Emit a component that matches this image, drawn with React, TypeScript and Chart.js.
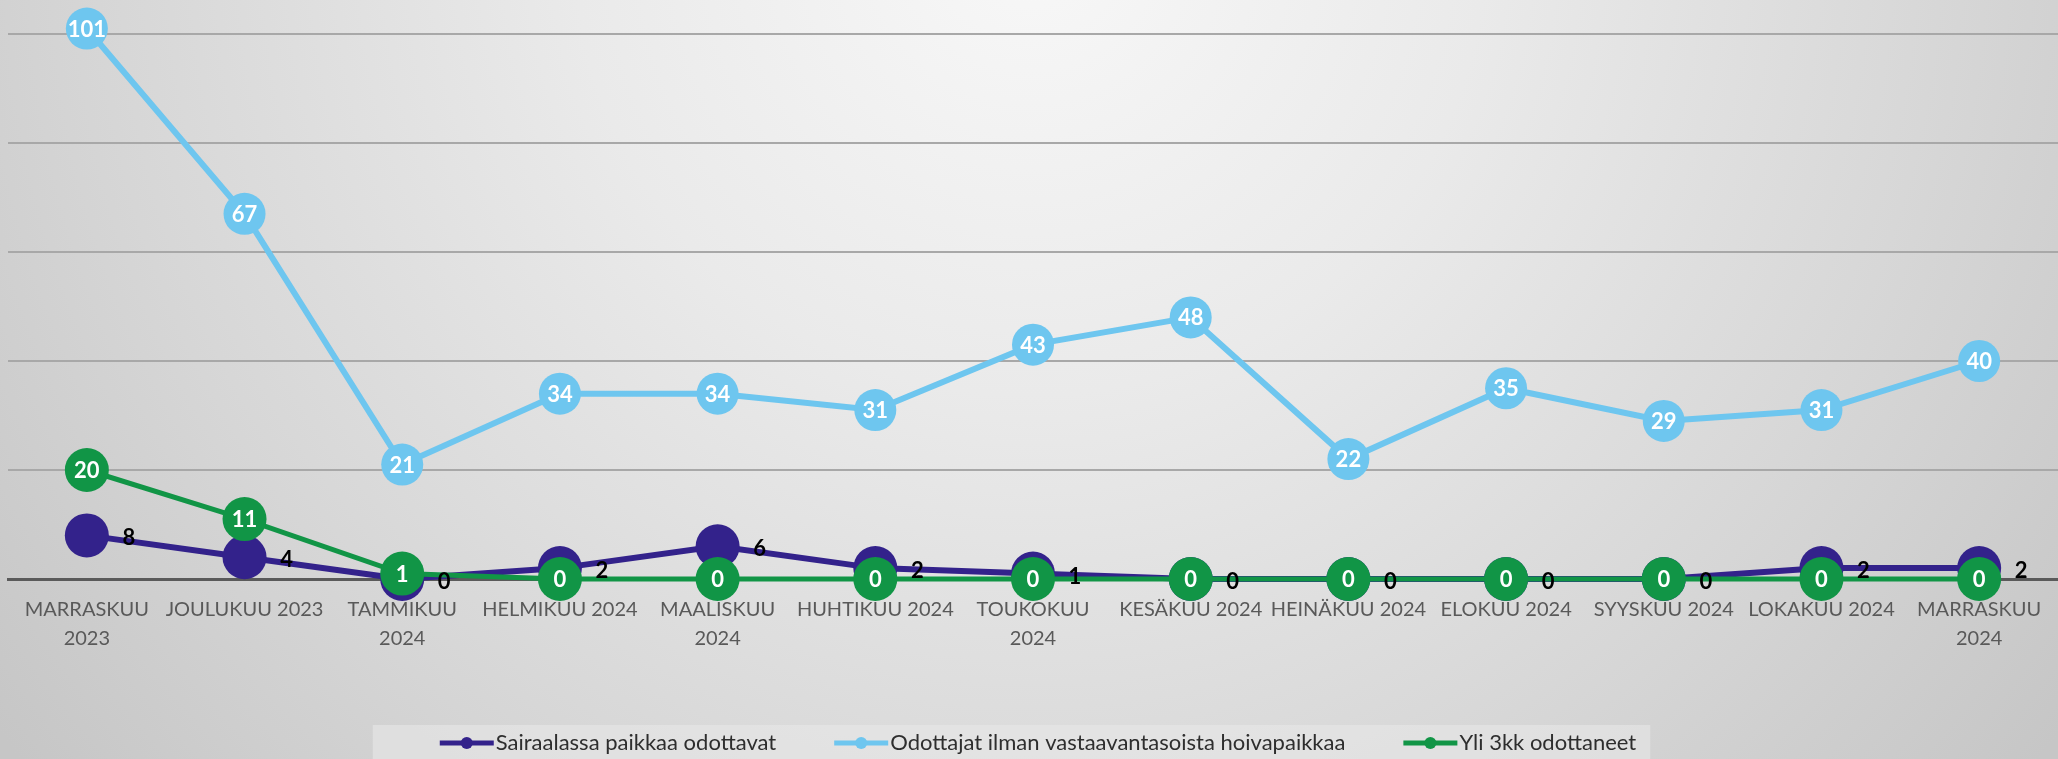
import React, { useEffect, useRef } from 'react';
import { Chart, registerables } from 'chart.js';

Chart.register(...registerables);

const categories: (string | string[])[] = [
  ['MARRASKUU', '2023'],
  'JOULUKUU 2023',
  ['TAMMIKUU', '2024'],
  'HELMIKUU 2024',
  ['MAALISKUU', '2024'],
  'HUHTIKUU 2024',
  ['TOUKOKUU', '2024'],
  'KESÄKUU 2024',
  'HEINÄKUU 2024',
  'ELOKUU 2024',
  'SYYSKUU 2024',
  'LOKAKUU 2024',
  ['MARRASKUU', '2024'],
];
const sairaalassa = [8, 4, 0, 2, 6, 2, 1, 0, 0, 0, 0, 2, 2];
const odottajat = [101, 67, 21, 34, 34, 31, 43, 48, 22, 35, 29, 31, 40];
const yli3kk = [20, 11, 1, 0, 0, 0, 0, 0, 0, 0, 0, 0, 0];
const seriesNames = [
  'Sairaalassa paikkaa odottavat',
  'Odottajat ilman vastaavantasoista hoivapaikkaa',
  'Yli 3kk odottaneet',
];
const yTicks = [0, 20, 40, 60, 80, 100];

const FONT = 'Lato, "Liberation Sans", sans-serif';
const PURPLE = '#33228b';
const BLUE = '#6ec6ef';
const GREEN = '#119546';

const backgroundPlugin = {
  id: 'bg',
  beforeDraw(chart: any) {
    const { ctx, width, height } = chart;
    ctx.save();
    const g = ctx.createRadialGradient(1030, -60, 0, 1030, -60, 1300);
    g.addColorStop(0, '#f8f8f8');
    g.addColorStop(0.35, '#eaeaea');
    g.addColorStop(0.7, '#d7d7d7');
    g.addColorStop(1, '#c6c6c6');
    ctx.fillStyle = g;
    ctx.fillRect(0, 0, width, height);
    ctx.restore();
  },
};

const dataLabelPlugin = {
  id: 'dataLabels',
  afterDatasetsDraw(chart: any) {
    const ctx = chart.ctx;
    ctx.save();
    chart.data.datasets.forEach((ds: any, i: number) => {
      const meta = chart.getDatasetMeta(i);
      meta.data.forEach((pt: any, j: number) => {
        const v = ds.data[j];
        ctx.textAlign = 'center';
        ctx.textBaseline = 'middle';
        if (i === 0) {
          ctx.font = `bold 22px ${FONT}`;
          ctx.fillStyle = '#000000';
          ctx.fillText(String(v), pt.x + 42, pt.y + 3);
        } else {
          ctx.font = `bold 22px ${FONT}`;
          ctx.fillStyle = '#ffffff';
          ctx.fillText(String(v), pt.x, pt.y + 1);
        }
      });
    });
    ctx.restore();
  },
};

const legendPlugin = {
  id: 'customLegend',
  afterDraw(chart: any) {
    const ctx = chart.ctx;
    ctx.save();
    ctx.font = `22px ${FONT}`;
    const items = chart.data.datasets.map((ds: any) => ({
      label: ds.label,
      color: ds.borderColor,
      w: ctx.measureText(ds.label).width,
    }));
    const markerW = 54;
    const gap = 58;
    const total = items.reduce((s: number, it: any) => s + markerW + 2 + it.w, 0) + gap * (items.length - 1);
    let x = 1038 - total / 2;
    const cy = 743;
    ctx.fillStyle = 'rgba(232,232,232,0.6)';
    ctx.fillRect(x - 67, 725, total + 81, 40);
    items.forEach((it: any) => {
      ctx.strokeStyle = it.color;
      ctx.lineWidth = 5;
      ctx.beginPath();
      ctx.moveTo(x, cy);
      ctx.lineTo(x + markerW, cy);
      ctx.stroke();
      ctx.fillStyle = it.color;
      ctx.beginPath();
      ctx.arc(x + markerW / 2, cy, 6, 0, Math.PI * 2);
      ctx.fill();
      ctx.fillStyle = '#2e2e2e';
      ctx.textAlign = 'left';
      ctx.textBaseline = 'middle';
      ctx.fillText(it.label, x + markerW + 2, cy);
      x += markerW + 2 + it.w + gap;
    });
    ctx.restore();
  },
};

export default function App() {
  const ref = useRef<HTMLCanvasElement | null>(null);
  useEffect(() => {
    if (!ref.current) return;
    const mk = (label: string, data: number[], color: string, order: number, width: number, radius: number) => ({
      label,
      data,
      borderColor: color,
      backgroundColor: color,
      pointBackgroundColor: color,
      pointBorderColor: color,
      pointBorderWidth: 0,
      pointRadius: radius,
      pointHoverRadius: radius,
      borderWidth: width,
      tension: 0,
      order,
      clip: false as any,
    });
    const chart = new Chart(ref.current, {
      type: 'line',
      data: {
        labels: categories as any,
        datasets: [
          mk(seriesNames[0], sairaalassa, PURPLE, 2, 6, 22),
          mk(seriesNames[1], odottajat, BLUE, 1, 6, 21),
          mk(seriesNames[2], yli3kk, GREEN, 0, 5, 22),
        ],
      },
      options: {
        responsive: false,
        animation: false,
        devicePixelRatio: 1,
        layout: { autoPadding: false, padding: { left: 8, right: 0, top: 34, bottom: 0 } },
        plugins: {
          legend: { display: false },
          tooltip: { enabled: false },
        },
        scales: {
          x: {
            offset: true,
            grid: { display: false, drawTicks: false },
            border: { display: true, color: '#5a5a5a', width: 3 },
            ticks: {
              color: '#595959',
              font: { family: FONT, size: 20, lineHeight: 1.45 },
              padding: 16,
              maxRotation: 0,
              autoSkip: false,
            },
            afterFit: (scale: any) => {
              scale.height = 180;
              scale.paddingLeft = 0;
              scale.paddingRight = 0;
            },
          },
          y: {
            min: yTicks[0],
            max: yTicks[yTicks.length - 1],
            afterBuildTicks: (scale: any) => {
              scale.ticks = yTicks.map((v) => ({ value: v }));
            },
            afterFit: (scale: any) => {
              scale.width = 0;
            },
            ticks: { display: false },
            grid: {
              drawTicks: false,
              color: (c: any) => (c.tick && c.tick.value === 0 ? 'rgba(0,0,0,0)' : '#a8a8a8'),
              lineWidth: 2,
            },
            border: { display: false },
          },
        },
      },
      plugins: [backgroundPlugin, dataLabelPlugin, legendPlugin],
    });
    return () => chart.destroy();
  }, []);
  return (
    <div style={{ position: 'absolute', left: 0, top: 0, width: 2058, height: 759 }}>
      <canvas ref={ref} width={2058} height={759} style={{ width: 2058, height: 759 }} />
    </div>
  );
}
